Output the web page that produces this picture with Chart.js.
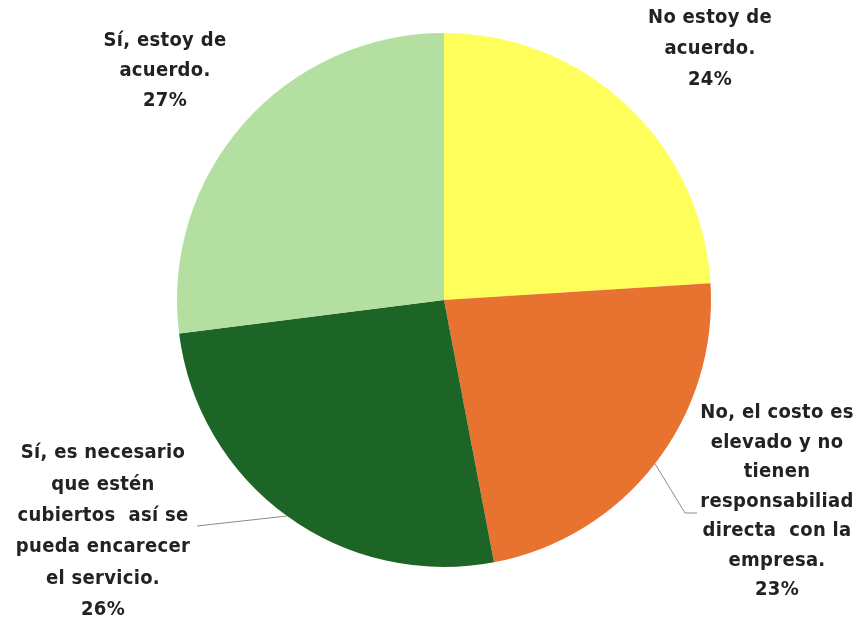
<!DOCTYPE html>
<html>
<head>
<meta charset="utf-8">
<script src="https://cdn.jsdelivr.net/npm/chart.js@4.4.1/dist/chart.umd.min.js"></script>
<style>
  html, body { margin:0; padding:0; background:#fff; }
  #wrap { width:860px; height:621px; position:relative; }
</style>
</head>
<body>
<div id="wrap"><canvas id="pieChart" width="860" height="621"></canvas></div>
<script>
// ===== Data =====
const categories = [
  ['No estoy de', 'acuerdo.'],
  ['No, el costo es', 'elevado y no', 'tienen', 'responsabiliad', 'directa  con la', 'empresa.'],
  ['Sí, es necesario', 'que estén', 'cubiertos  así se', 'pueda encarecer', 'el servicio.'],
  ['Sí, estoy de', 'acuerdo.']
];
const values = [24, 23, 26, 27];
const colors = ['#FFFF5C', '#E87230', '#1D6526', '#B3E0A1'];

// label placement, relative to pie centre (x of text centre, y of first line, line step)
const labelPlace = [
  { dx: 266, dy: -282, step: 31 },
  { dx: 333, dy: 113, step: 29.5 },
  { dx: -341, dy: 153, step: 31.4 },
  { dx: -279, dy: -259, step: 30 }
];
// leader lines: end points relative to pie centre (null = no line)
const leaders = [
  null,
  [[241, 213], [253, 213]],
  [[-247, 226]],
  null
];

// ===== Label plugin =====
const pieLabels = {
  id: 'pieLabels',
  afterDatasetsDraw(chart) {
    const ctx = chart.ctx;
    const meta = chart.getDatasetMeta(0);
    const total = values.reduce((a, b) => a + b, 0);
    meta.data.forEach((arc, i) => {
      const cx = arc.x, cy = arc.y;
      // leader line
      if (leaders[i]) {
        const mid = (arc.startAngle + arc.endAngle) / 2;
        ctx.save();
        ctx.strokeStyle = '#8c8c8c';
        ctx.lineWidth = 1;
        ctx.beginPath();
        ctx.moveTo(cx + Math.cos(mid) * arc.outerRadius, cy + Math.sin(mid) * arc.outerRadius);
        leaders[i].forEach(p => ctx.lineTo(cx + p[0], cy + p[1]));
        ctx.stroke();
        ctx.restore();
      }
      const lp = labelPlace[i];
      const lines = categories[i].concat([Math.round(values[i] / total * 100) + '%']);
      ctx.save();
      ctx.fillStyle = '#222222';
      ctx.font = 'bold 20px "DejaVu Sans Condensed", sans-serif';
      ctx.letterSpacing = '0.3px';
      ctx.textAlign = 'center';
      ctx.textBaseline = 'middle';
      lines.forEach((t, k) => {
        ctx.fillText(t, cx + lp.dx, cy + lp.dy + k * lp.step);
      });
      ctx.restore();
    });
  }
};

new Chart(document.getElementById('pieChart').getContext('2d'), {
  type: 'pie',
  data: {
    labels: categories.map(c => c.join(' ')),
    datasets: [{ data: values, backgroundColor: colors, borderWidth: 0 }]
  },
  options: {
    responsive: false,
    animation: false,
    layout: { padding: { top: 33, bottom: 54, left: 177, right: 149 } },
    plugins: { legend: { display: false }, tooltip: { enabled: false } }
  },
  plugins: [pieLabels]
});
</script>
</body>
</html>
